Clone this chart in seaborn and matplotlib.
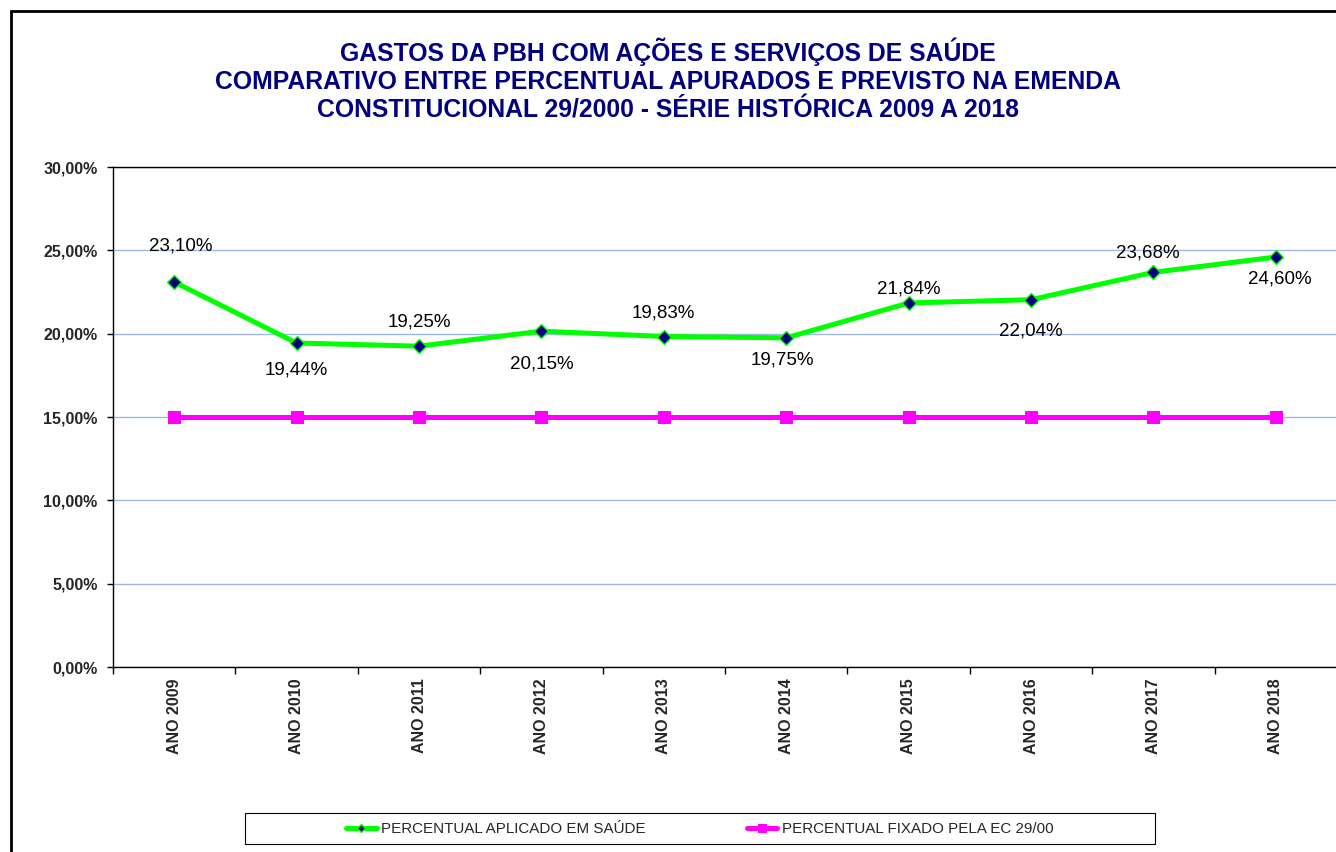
import numpy as np
import pandas as pd
import seaborn as sns
import matplotlib.pyplot as plt
from matplotlib.patches import Rectangle
from matplotlib.ticker import FixedLocator, FuncFormatter

anos = ['ANO 2009', 'ANO 2010', 'ANO 2011', 'ANO 2012', 'ANO 2013',
        'ANO 2014', 'ANO 2015', 'ANO 2016', 'ANO 2017', 'ANO 2018']
aplicado = [23.10, 19.44, 19.25, 20.15, 19.83, 19.75, 21.84, 22.04, 23.68, 24.60]
fixado = [15.0] * 10
serie_aplicado = 'PERCENTUAL APLICADO EM SAÚDE'
serie_fixado = 'PERCENTUAL FIXADO PELA EC 29/00'
titulo = ('GASTOS DA PBH COM AÇÕES E SERVIÇOS DE SAÚDE\n'
          'COMPARATIVO ENTRE PERCENTUAL APURADOS E PREVISTO NA EMENDA\n'
          'CONSTITUCIONAL 29/2000 - SÉRIE HISTÓRICA 2009 A 2018')

# label offsets (pixels) relative to each point
offsets = [(7, 36), (0, -27), (0, 24), (0, -33), (0, 23),
           (-4, -22), (0, 14), (0, -31), (-6, 19), (4, -22)]

df = pd.DataFrame({'ano': anos, 'aplicado': aplicado, 'fixado': fixado})

sns.set_style('white')
plt.rcParams['font.family'] = ['Liberation Sans', 'DejaVu Sans']

W, H = 1336, 852
fig = plt.figure(figsize=(W / 100, H / 100), dpi=100)
ax = fig.add_axes([113 / W, 1 - 667 / H, (1337 - 113) / W, (667 - 167) / H])

sns.lineplot(data=df, x='ano', y='fixado', ax=ax, color='#FF00FF', lw=3.6,
             marker='s', markersize=9, markerfacecolor='#FF00FF',
             markeredgecolor='#FF00FF', label=serie_fixado, zorder=3)
sns.lineplot(data=df, x='ano', y='aplicado', ax=ax, color='#00FF00', lw=3.6,
             marker='D', markersize=7, markerfacecolor='#000080',
             markeredgecolor='#00FF00', markeredgewidth=1,
             label=serie_aplicado, zorder=4)

for i, (v, (dx, dy)) in enumerate(zip(aplicado, offsets)):
    ax.annotate(f'{v:.2f}%'.replace('.', ','), (i, v), xytext=(dx, dy),
                textcoords='offset pixels', ha='center', va='center',
                fontsize=13.5, color='black')

ax.set_xlim(-0.5, len(anos) - 0.5)
ax.set_ylim(0, 30)
ax.set_yticks(np.arange(0, 31, 5))
ax.yaxis.set_major_formatter(FuncFormatter(lambda v, p: f'{v:.2f}%'.replace('.', ',')))
ax.grid(axis='y', color='#9DB8E2', lw=1)
ax.set_axisbelow(True)
ax.set_xlabel('')
ax.set_ylabel('')

ax.set_xticks(range(len(anos)))
ax.set_xticklabels(anos, rotation=90, fontweight='bold', fontsize=11.5)
ax.xaxis.set_minor_locator(FixedLocator(np.arange(-0.5, len(anos), 1)))
ax.tick_params(axis='x', which='both', bottom=True)
ax.tick_params(axis='x', which='major', length=0, pad=8)
ax.tick_params(axis='x', which='minor', length=5, width=1, color='black', direction='out')
ax.tick_params(axis='y', left=True, length=4, width=1, color='black', direction='out',
               pad=7, labelsize=11.5)
for t in ax.get_yticklabels():
    t.set_fontweight('bold')

for side in ['left', 'top', 'bottom']:
    ax.spines[side].set_color('black')
    ax.spines[side].set_linewidth(1)
ax.spines['right'].set_visible(False)

fig.text(668 / W, 1 - 80 / H, titulo, ha='center', va='center',
         fontsize=17.8, fontweight='bold', color='#000080', linespacing=1.2)

h, l = ax.get_legend_handles_labels()
ax.legend([h[1], h[0]], [l[1], l[0]], ncol=2, frameon=False, fontsize=10.9,
          loc='center', bbox_to_anchor=(700 / W, 1 - 829 / H),
          bbox_transform=fig.transFigure, handlelength=2.0, handletextpad=0.3,
          columnspacing=6.7, markerscale=0.6)
fig.patches.append(Rectangle((245 / W, 1 - 844 / H), 910 / W, 31 / H,
                             transform=fig.transFigure, fill=False,
                             edgecolor='black', lw=0.8))

# outer border of the chart area
fig.patches.append(Rectangle((10.5 / W, -0.1), 1.2, 1 - 10.5 / H + 0.1,
                             transform=fig.transFigure, fill=False,
                             edgecolor='black', lw=2))

fig.savefig('out.png', dpi=100)
